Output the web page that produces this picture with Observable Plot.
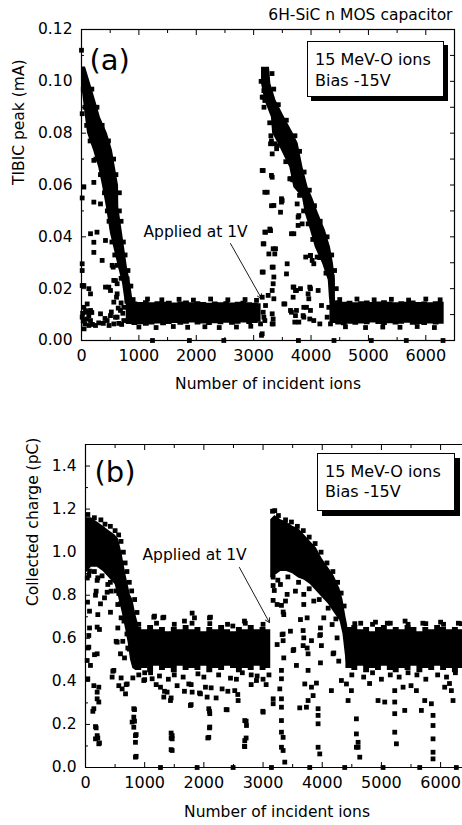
<!DOCTYPE html>
<html><head><meta charset="utf-8">
<script src="https://cdn.jsdelivr.net/npm/d3@7"></script>
<script src="https://cdn.jsdelivr.net/npm/@observablehq/plot@0.6"></script>
<style>
body{margin:0;background:#fff;}
#wrap{position:relative;width:462px;height:825px;overflow:hidden;font-family:"DejaVu Sans",sans-serif;color:#000;}
.panel{position:absolute;left:0;}
.legend{position:absolute;box-sizing:border-box;background:#fff;border:1px solid #000;font-size:16px;white-space:nowrap;}
</style></head><body><div id="wrap"></div>
<script>
// ---------------- Panel (a): TIBIC peak (mA) ----------------
const aDecay1Y  = [0.1055, 0.099, 0.0926, 0.086, 0.080, 0.0733, 0.0668, 0.0598, 0.0513, 0.0413, 0.0282, 0.022, 0.0166, 0.014];
const aDecay1X1 = [0, 0, 35, 70, 105, 210, 300, 365, 435, 505, 645, 715, 750, 760];
const aDecay1X2 = [70, 160, 245, 330, 450, 540, 590, 645, 650, 715, 800, 855, 890, 900];

const aDecay2Y  = [0.1054, 0.099, 0.0926, 0.086, 0.080, 0.0761, 0.0668, 0.059, 0.0552, 0.049, 0.0425, 0.0359, 0.0297, 0.0232, 0.0166, 0.0145];
const aDecay2X1 = [3137, 3137, 3195, 3310, 3330, 3425, 3630, 3700, 3850, 3900, 3990, 4075, 4200, 4300, 4320, 4330];
const aDecay2X2 = [3276, 3300, 3390, 3540, 3690, 3775, 3860, 3950, 4025, 4130, 4250, 4340, 4390, 4425, 4425, 4430];

const aFlat1X  = [780, 880, 980, 1080, 1180, 1280, 1380, 1480, 1580, 1680, 1780, 1880, 1980, 2080, 2180, 2280, 2380, 2480, 2580, 2680, 2780, 2880, 2980, 3080, 3130];
const aFlat1Lo = [0.0062, 0.0058, 0.0061, 0.0055, 0.0060, 0.0064, 0.0057, 0.0062, 0.0066, 0.0059, 0.0063, 0.0068, 0.0060, 0.0064, 0.0058, 0.0065, 0.0061, 0.0067, 0.0059, 0.0063, 0.0068, 0.0062, 0.0066, 0.0070, 0.0070];
const aFlat1Hi = [0.0152, 0.0149, 0.0147, 0.0153, 0.0146, 0.0150, 0.0148, 0.0151, 0.0145, 0.0149, 0.0152, 0.0146, 0.0150, 0.0147, 0.0144, 0.0149, 0.0146, 0.0150, 0.0145, 0.0148, 0.0151, 0.0146, 0.0144, 0.0142, 0.0142];

const aFlat2X  = [4330, 4430, 4530, 4630, 4730, 4830, 4930, 5030, 5130, 5230, 5330, 5430, 5530, 5630, 5730, 5830, 5930, 6030, 6130, 6230, 6320];
const aFlat2Lo = [0.0066, 0.0060, 0.0057, 0.0063, 0.0059, 0.0064, 0.0061, 0.0068, 0.0062, 0.0058, 0.0065, 0.0060, 0.0063, 0.0067, 0.0059, 0.0062, 0.0058, 0.0064, 0.0060, 0.0063, 0.0063];
const aFlat2Hi = [0.0150, 0.0153, 0.0148, 0.0151, 0.0146, 0.0150, 0.0152, 0.0147, 0.0149, 0.0153, 0.0148, 0.0146, 0.0150, 0.0148, 0.0152, 0.0147, 0.0149, 0.0146, 0.0150, 0.0148, 0.0148];

const aDotsLeft = [[0,0.112],[12,0.0875],[215,0.0695],[41,0.0592],[215,0.061],[215,0.0534],[331,0.0527],[12,0.055],[157,0.0412],[418,0.0386],[215,0.0379],[215,0.034],[12,0.0296],[360,0.0309],[534,0.0437],[534,0.029],[563,0.0232],[621,0.0219],[418,0.0206],[12,0.0212],[128,0.02],[157,0.018],[505,0.0193],[621,0.018],[563,0.0148],[41,0.0128],[157,0.0116],[12,0.009],[157,0.0077],[244,0.0058],[447,0.0077],[505,0.0096],[621,0.009],[679,0.0116],[737,0.0128],[737,0.0077],[795,0.0238],[128,0.0096],[331,0.0103],[99,0.0141],[563,0.0064],[12,0.027],[552,0.0283],[592,0.0231],[476,0.0206],[610,0.0167],[592,0.009],[99,0.0109],[128,0.0058],[87,0.0083],[41,0.0212],[270,0.0418],[30,0.0075],[60,0.0065],[190,0.0062],[300,0.0068],[380,0.0066],[650,0.0066],[700,0.0062],[480,0.0058],[20,0.0105],[70,0.0115],[180,0.0108],[520,0.011],[640,0.0125],[410,0.0085],[720,0.0105],[45,0.0045],[690,0.0145]];
const aDotsMid = [[3149,0.0939],[3178,0.0964],[3294,0.0759],[3410,0.0752],[3323,0.072],[3149,0.0656],[3323,0.063],[3642,0.0624],[3236,0.0572],[3352,0.0521],[3497,0.054],[3468,0.0495],[3758,0.0527],[3787,0.0482],[3207,0.0418],[3294,0.0424],[3700,0.0412],[3845,0.045],[3178,0.0373],[3381,0.0354],[3265,0.0334],[3584,0.0296],[3990,0.0328],[4107,0.0322],[3149,0.0264],[3323,0.0283],[3352,0.0245],[3700,0.0206],[3729,0.0193],[3816,0.02],[3990,0.02],[4048,0.0296],[4020,0.0309],[4368,0.0245],[3323,0.0193],[3149,0.0167],[3352,0.0161],[3526,0.0141],[3207,0.0135],[3642,0.0116],[3729,0.0096],[3874,0.0128],[3990,0.0116],[3874,0.009],[4048,0.0077],[3787,0.0071],[3323,0.0103],[3178,0.009],[3323,0.0064],[3120,0.0064],[4310,0.0128],[4281,0.009],[4339,0.0064],[3961,0.0161],[3166,0.0939],[3195,0.0926],[3310,0.077],[3368,0.0759],[3166,0.0656],[3310,0.0637],[3630,0.0624],[3195,0.0572],[3485,0.0547],[3311,0.052],[3485,0.0534],[3195,0.0418],[3282,0.043],[3659,0.0412],[3775,0.0476],[3775,0.0444],[3166,0.0373],[3340,0.0354],[3368,0.0334],[3988,0.0328],[3907,0.0322],[3166,0.0264],[3340,0.0283],[3340,0.0219],[3572,0.0257],[3688,0.0206],[3746,0.0193],[3688,0.0167],[3978,0.0206],[3949,0.018],[4124,0.0193],[3253,0.0174],[4182,0.0135],[3543,0.0141],[3659,0.0109],[3746,0.0116],[3920,0.0128],[3862,0.0096],[3978,0.0083],[3717,0.0071],[4153,0.0064],[3340,0.0083],[3340,0.0064],[3166,0.0109],[3195,0.0077]];
const aDotsBase = [[1237,0],[1880,0],[2480,0],[3137,0.002],[3149,0.0026],[3780,0],[4400,0],[5050,0],[5660,0],[6300,0]];
const aDotsEdge = [[180,0.097],[270,0.090],[360,0.083],[470,0.077],[560,0.070],[600,0.064],[660,0.057],[660,0.050],[690,0.046],[730,0.038],[760,0.033],[810,0.027],[860,0.021],[30,0.097],[60,0.090],[90,0.083],[150,0.077],[250,0.070],[330,0.064],[400,0.057],[450,0.050],[480,0.046],[530,0.038],[580,0.033],[620,0.029],[690,0.024],[3320,0.103],[3350,0.097],[3430,0.091],[3570,0.085],[3720,0.079],[3800,0.073],[3880,0.065],[3970,0.058],[4060,0.052],[4160,0.046],[4280,0.040],[4360,0.033],[4410,0.027],[4440,0.020],[3130,0.100],[3180,0.090],[3280,0.084],[3300,0.079],[3400,0.074],[3560,0.069],[3680,0.062],[3800,0.056],[3870,0.050],[3950,0.045],[4030,0.039],[4150,0.032],[4260,0.026],[900,0.0158],[1150,0.016],[1400,0.0157],[1700,0.0159],[1950,0.0156],[2250,0.016],[2550,0.0157],[2850,0.0158],[3050,0.0155],[4500,0.0158],[4800,0.016],[5100,0.0157],[5400,0.0159],[5700,0.0156],[6000,0.016],[6250,0.0157],[1000,0.0052],[1300,0.005],[1600,0.0054],[1850,0.0051],[2150,0.0053],[2400,0.005],[2700,0.0052],[2950,0.0055],[4600,0.0053],[4950,0.005],[5250,0.0052],[5550,0.0051],[5850,0.0054],[6150,0.005]];

// ---------------- Panel (b): Collected charge (pC) ----------------
const bDecay1X  = [0, 100, 200, 300, 400, 500, 560, 620, 680, 720, 760, 800, 850, 900];
const bDecay1Lo = [0.90, 0.93, 0.93, 0.91, 0.88, 0.85, 0.79, 0.72, 0.64, 0.58, 0.50, 0.46, 0.45, 0.45];
const bDecay1Hi = [1.16, 1.16, 1.14, 1.12, 1.10, 1.08, 1.06, 0.99, 0.90, 0.85, 0.80, 0.78, 0.71, 0.66];

const bDecay2X  = [3130, 3200, 3300, 3400, 3500, 3600, 3700, 3800, 3900, 4000, 4100, 4200, 4300, 4350, 4400, 4430];
const bDecay2Lo = [0.88, 0.89, 0.91, 0.91, 0.90, 0.88, 0.87, 0.85, 0.82, 0.79, 0.76, 0.72, 0.68, 0.62, 0.50, 0.46];
const bDecay2Hi = [1.15, 1.17, 1.15, 1.14, 1.12, 1.11, 1.08, 1.05, 1.02, 0.97, 0.93, 0.89, 0.83, 0.78, 0.70, 0.66];

const bFlat1X  = [850, 950, 1050, 1150, 1250, 1350, 1450, 1550, 1650, 1750, 1850, 1950, 2050, 2150, 2250, 2350, 2450, 2550, 2650, 2750, 2850, 2950, 3050, 3130];
const bFlat1Lo = [0.45, 0.46, 0.44, 0.47, 0.45, 0.46, 0.44, 0.47, 0.45, 0.46, 0.45, 0.47, 0.44, 0.46, 0.45, 0.47, 0.46, 0.44, 0.46, 0.45, 0.47, 0.45, 0.46, 0.46];
const bFlat1Hi = [0.65, 0.64, 0.66, 0.64, 0.65, 0.63, 0.65, 0.64, 0.66, 0.64, 0.65, 0.63, 0.65, 0.64, 0.66, 0.64, 0.63, 0.65, 0.64, 0.66, 0.64, 0.65, 0.64, 0.64];

const bFlat2X  = [4400, 4500, 4600, 4700, 4800, 4900, 5000, 5100, 5200, 5300, 5400, 5500, 5600, 5700, 5800, 5900, 6000, 6100, 6200, 6300, 6380];
const bFlat2Lo = [0.46, 0.45, 0.47, 0.44, 0.46, 0.45, 0.47, 0.45, 0.44, 0.46, 0.45, 0.47, 0.44, 0.46, 0.45, 0.47, 0.45, 0.46, 0.44, 0.46, 0.46];
const bFlat2Hi = [0.65, 0.66, 0.64, 0.65, 0.63, 0.65, 0.66, 0.64, 0.65, 0.64, 0.66, 0.65, 0.63, 0.65, 0.64, 0.66, 0.65, 0.64, 0.65, 0.64, 0.64];

const bDotsLeft = [[56,0.613],[197,0.652],[56,0.559],[197,0.528],[28,0.497],[84,0.474],[39,0.412],[141,0.38],[225,0.373],[197,0.35],[197,0.319],[225,0.304],[141,0.273],[169,0.19],[197,0.148],[225,0.11],[169,0.133],[535,0.582],[591,0.528],[479,0.451],[450,0.42],[563,0.38],[676,0.342],[619,0.365],[704,0.388],[816,0.273],[816,0.234],[788,0.211],[816,0.187],[844,0.148],[844,0.117],[844,0.048],[68,0.912],[208,0.881],[180,0.819],[321,0.788],[377,0.85],[434,0.819],[68,0.726],[208,0.71],[546,0.757],[602,0.695],[68,0.648],[236,0.641],[546,0.648],[630,0.586],[715,0.555],[518,0.586],[39,0.555],[152,0.524],[659,0.509],[462,0.447],[602,0.416],[687,0.385],[180,0.184],[208,0.137],[236,0.114],[124,0.261],[828,0.269],[828,0.215],[856,0.153],[856,0.052],[56,0.892],[197,0.869],[169,0.80],[366,0.814],[422,0.721],[563,0.808],[253,0.76],[34,0.768]];
const bDotsMid = [[985,0.404],[1126,0.412],[1267,0.373],[1323,0.327],[1436,0.311],[1379,0.35],[1464,0.148],[1464,0.133],[1464,0.079],[1548,0.38],[1745,0.388],[1773,0.288],[1802,0.35],[1942,0.342],[2027,0.373],[2055,0.327],[2083,0.273],[2100,0.25],[2100,0.188],[2083,0.14],[2308,0.365],[2392,0.268],[800,0.416],[1000,0.408],[1194,0.385],[1335,0.354],[1447,0.323],[1672,0.354],[1785,0.385],[1926,0.346],[2123,0.37],[2207,0.323],[2405,0.354],[2573,0.339],[2799,0.385],[2996,0.261],[3052,0.385],[2095,0.261],[2095,0.184],[2067,0.137],[2714,0.215],[2714,0.137],[2686,0.099],[1447,0.16],[1447,0.137],[1447,0.083],[1785,0.292],[2377,0.269],[1166,0.703],[1306,0.695],[1841,0.695],[2095,0.695],[2686,0.68],[1672,0.68],[2489,0.657],[1154,0.698],[1323,0.698],[1802,0.717],[2111,0.698],[2522,0.357],[2579,0.311],[2691,0.218],[2720,0.195],[2691,0.125],[2691,0.097],[2889,0.404],[3002,0.257],[900,0.43],[1100,0.44],[1250,0.425],[1500,0.43],[1650,0.42],[1900,0.435],[2250,0.43],[2450,0.415],[2650,0.44],[2900,0.425],[3100,0.43],[1000,0.44],[2000,0.42],[2800,0.43],[1400,0.41],[2550,0.41],[3000,0.41]];
const bDotsRight = [[3171,0.319],[3171,0.296],[3311,0.451],[3311,0.412],[3283,0.365],[3311,0.319],[3311,0.28],[3311,0.218],[3311,0.164],[3339,0.14],[3311,0.094],[3339,0.079],[3367,0.025],[3339,0.62],[3339,0.589],[3508,0.543],[3677,0.566],[3677,0.636],[3958,0.613],[3986,0.566],[3818,0.589],[3761,0.528],[3564,0.474],[3761,0.451],[3705,0.388],[3818,0.373],[3846,0.334],[3761,0.311],[3733,0.28],[3620,0.277],[3902,0.392],[3930,0.273],[3930,0.242],[3930,0.203],[3930,0.094],[3958,0.063],[4155,0.357],[4183,0.528],[4324,0.404],[4409,0.388],[4437,0.311],[4493,0.357],[4577,0.226],[4577,0.156],[4606,0.117],[4606,0.094],[4634,0.048],[4577,0.094],[4943,0.311],[5056,0.304],[5225,0.357],[5225,0.304],[5225,0.25],[5225,0.164],[5253,0.11],[5394,0.265],[5366,0.373],[5591,0.357],[5675,0.265],[5732,0.311],[5844,0.296],[5872,0.242],[5872,0.195],[5872,0.133],[5872,0.071],[5872,0.04],[6069,0.373],[6182,0.357],[6210,0.311],[3181,0.943],[3294,0.85],[3407,0.804],[3238,0.757],[3379,0.773],[3547,0.819],[3688,0.804],[3857,0.773],[3745,0.695],[4026,0.695],[3688,0.757],[3350,0.71],[3632,0.687],[4167,0.664],[3970,0.648],[3463,0.633],[3322,0.617],[3688,0.602],[3970,0.617],[4251,0.602],[3238,0.571],[3519,0.548],[3745,0.555],[4195,0.532],[3350,0.509],[3970,0.486],[4279,0.494],[3198,1.193],[3170,0.884],[3170,0.845],[3190,0.822],[3170,0.776],[3311,0.753],[3340,0.722],[4500,0.43],[4700,0.42],[4850,0.44],[5000,0.41],[5150,0.43],[5300,0.42],[5450,0.44],[5600,0.43],[5750,0.41],[5950,0.43],[6100,0.42],[6250,0.44],[4650,0.67],[4900,0.675],[5100,0.67],[5400,0.68],[5700,0.67],[6000,0.675],[6300,0.67],[4800,0.39],[5500,0.38],[6150,0.39]];
const bDotsBase = [[1267,0],[1886,0],[2494,0],[3142,0],[3789,0],[4380,0],[5028,0],[5647,0],[6266,0]];
const bDotsEdge = [[40,1.175],[150,1.16],[260,1.15],[330,1.13],[420,1.12],[500,1.10],[560,1.08],[600,1.05],[640,1.00],[670,0.95],[700,0.91],[740,0.86],[780,0.82],[830,0.78],[870,0.72],[30,0.88],[150,0.91],[280,0.89],[420,0.86],[520,0.82],[590,0.76],[650,0.68],[700,0.62],[740,0.55],[3160,1.19],[3260,1.17],[3380,1.15],[3480,1.14],[3580,1.12],[3680,1.10],[3780,1.07],[3880,1.04],[3980,1.00],[4080,0.95],[4180,0.91],[4260,0.86],[4320,0.81],[4370,0.75],[3250,0.87],[3420,0.885],[3600,0.86],[3780,0.83],[3950,0.78],[4100,0.74],[4230,0.69],[900,0.665],[1200,0.67],[1500,0.665],[1800,0.67],[2100,0.668],[2400,0.665],[2700,0.67],[3000,0.665],[4550,0.668],[4850,0.665],[5150,0.67],[5450,0.665],[5750,0.668],[6050,0.665],[6350,0.668]];

// ticks
const xMajor = [0, 1000, 2000, 3000, 4000, 5000, 6000];
const xMinor = [500, 1500, 2500, 3500, 4500, 5500, 6500];
const aYMajor = [0, 0.02, 0.04, 0.06, 0.08, 0.10, 0.12];
const aYMinor = [0.01, 0.03, 0.05, 0.07, 0.09, 0.11];
const bYMajor = [0, 0.2, 0.4, 0.6, 0.8, 1.0, 1.2, 1.4];
const bYMinor = [0.1, 0.3, 0.5, 0.7, 0.9, 1.1, 1.3];

// annotations (data units)
const aArrow = {x1: 2597, y1: 0.0374, x2: 3137, y2: 0.0162};
const aNote = {x: 1080, y: 0.042};
const bArrow = {x1: 2601, y1: 0.929, x2: 3108, y2: 0.673};
const bNote = {x: 963, y: 0.985};

const toRows3 = (xs, a, b) => xs.map((x, i) => ({x, lo: a[i], hi: b[i]}));
const toRowsY = (ys, a, b) => ys.map((y, i) => ({y, x1: a[i], x2: b[i]}));
const FONT = "DejaVu Sans";
const sq = {symbol: "square", r: 2.7, fill: "black", stroke: "none"};
const pt = arr => Plot.dot(arr, {x: d => d[0], y: d => d[1], ...sq});

function axes(yMajor, yMinor, yFmt, mirrorRight) {
  const m = [
    Plot.axisX(xMajor, {tickSize: -5, tickPadding: 14, tickFormat: d => String(d), label: null, fontSize: 16}),
    Plot.axisX(xMinor, {tickSize: -3, tickFormat: () => "", label: null}),
    Plot.axisX(xMajor, {anchor: "top", tickSize: -5, tickFormat: () => "", label: null}),
    Plot.axisX(xMinor, {anchor: "top", tickSize: -3, tickFormat: () => "", label: null}),
    Plot.axisY(yMajor, {tickSize: -5, tickPadding: 14, tickFormat: yFmt, label: null, fontSize: 15.5}),
    Plot.axisY(yMinor, {tickSize: -3, tickFormat: () => "", label: null})
  ];
  if (mirrorRight) {
    m.push(Plot.axisY(yMajor, {anchor: "right", tickSize: -5, tickFormat: () => "", label: null}));
    m.push(Plot.axisY(yMinor, {anchor: "right", tickSize: -5, tickFormat: () => "", label: null}));
  }
  return m;
}

const plotA = Plot.plot({
  width: 462, height: 400,
  marginLeft: 81, marginRight: 8, marginTop: 29, marginBottom: 60,
  x: {domain: [0, 6500]},
  y: {domain: [0, 0.12]},
  style: {fontFamily: FONT, fontSize: "15.5px", background: "white", color: "black", overflow: "visible"},
  marks: [
    Plot.areaX(toRowsY(aDecay1Y, aDecay1X1, aDecay1X2), {y: "y", x1: "x1", x2: "x2", fill: "black"}),
    Plot.areaX(toRowsY(aDecay2Y, aDecay2X1, aDecay2X2), {y: "y", x1: "x1", x2: "x2", fill: "black"}),
    Plot.areaY(toRows3(aFlat1X, aFlat1Lo, aFlat1Hi), {x: "x", y1: "lo", y2: "hi", fill: "black", curve: "step-after"}),
    Plot.areaY(toRows3(aFlat2X, aFlat2Lo, aFlat2Hi), {x: "x", y1: "lo", y2: "hi", fill: "black", curve: "step-after"}),
    pt(aDotsLeft), pt(aDotsMid), pt(aDotsBase), pt(aDotsEdge),
    Plot.frame({stroke: "black", strokeWidth: 1.2}),
    ...axes(aYMajor, aYMinor, d => d.toFixed(2), true),
    Plot.arrow([aArrow], {x1: "x1", y1: "y1", x2: "x2", y2: "y2", stroke: "black", strokeWidth: 0.9, headLength: 8, bend: 0}),
    Plot.text(["Applied at 1V"], {x: aNote.x, y: aNote.y, textAnchor: "start", lineAnchor: "middle", fontSize: 15.5}),
    Plot.text(["(a)"], {frameAnchor: "top-left", dx: 8, dy: 31, textAnchor: "start", lineAnchor: "middle", fontSize: 29}),
    Plot.text(["6H-SiC n MOS capacitor"], {frameAnchor: "top-right", dx: -2, dy: -14, textAnchor: "end", lineAnchor: "middle", fontSize: 15.5}),
    Plot.text(["TIBIC peak (mA)"], {frameAnchor: "left", dx: -62, rotate: -90, lineAnchor: "middle", fontSize: 15.5}),
    Plot.text(["Number of incident ions"], {frameAnchor: "bottom", dy: 44, lineAnchor: "middle", fontSize: 15.5})
  ]
});

const plotB = Plot.plot({
  width: 462, height: 425,
  marginLeft: 85, marginRight: 0, marginTop: 44, marginBottom: 58,
  x: {domain: [0, 6370]},
  y: {domain: [0, 1.5]},
  style: {fontFamily: FONT, fontSize: "15.5px", background: "white", color: "black", overflow: "visible"},
  marks: [
    Plot.areaY(toRows3(bDecay1X, bDecay1Lo, bDecay1Hi), {x: "x", y1: "lo", y2: "hi", fill: "black"}),
    Plot.areaY(toRows3(bDecay2X, bDecay2Lo, bDecay2Hi), {x: "x", y1: "lo", y2: "hi", fill: "black"}),
    Plot.areaY(toRows3(bFlat1X, bFlat1Lo, bFlat1Hi), {x: "x", y1: "lo", y2: "hi", fill: "black", curve: "step-after"}),
    Plot.areaY(toRows3(bFlat2X, bFlat2Lo, bFlat2Hi), {x: "x", y1: "lo", y2: "hi", fill: "black", curve: "step-after"}),
    pt(bDotsLeft), pt(bDotsMid), pt(bDotsRight), pt(bDotsBase), pt(bDotsEdge),
    Plot.ruleX([0], {stroke: "black", strokeWidth: 1.2}),
    Plot.ruleY([0, 1.5], {stroke: "black", strokeWidth: 1.2}),
    ...axes(bYMajor, bYMinor, d => d.toFixed(1), false),
    Plot.arrow([bArrow], {x1: "x1", y1: "y1", x2: "x2", y2: "y2", stroke: "black", strokeWidth: 0.9, headLength: 8, bend: 0}),
    Plot.text(["Applied at 1V"], {x: bNote.x, y: bNote.y, textAnchor: "start", lineAnchor: "middle", fontSize: 15.5}),
    Plot.text(["(b)"], {frameAnchor: "top-left", dx: 9, dy: 28, textAnchor: "start", lineAnchor: "middle", fontSize: 29}),
    Plot.text(["Collected charge (pC)"], {frameAnchor: "left", dx: -52, rotate: -90, lineAnchor: "middle", fontSize: 15.5}),
    Plot.text(["Number of incident ions"], {frameAnchor: "bottom", dx: 3, dy: 45, lineAnchor: "middle", fontSize: 15.5})
  ]
});

const wrap = document.getElementById("wrap");
plotA.classList.add("panel"); plotA.style.top = "0px";
plotB.classList.add("panel"); plotB.style.top = "400px";
wrap.appendChild(plotA);
wrap.appendChild(plotB);

function legend(left, top, w, h, shadow, lh, ptop) {
  const sh = document.createElement("div");
  sh.style.cssText = `position:absolute;left:${left + shadow}px;top:${top + shadow}px;width:${w}px;height:${h}px;background:#000;`;
  wrap.appendChild(sh);
  const d = document.createElement("div");
  d.className = "legend";
  d.style.cssText += `left:${left}px;top:${top}px;width:${w}px;height:${h}px;line-height:${lh}px;padding:${ptop}px 0 0 7px;`;
  d.innerHTML = "15 MeV-O ions<br>Bias -15V";
  wrap.appendChild(d);
}
legend(307, 41, 137, 56, 4, 21, 6.5);
legend(317, 453, 138, 58, 5, 20, 8);
</script></body></html>
